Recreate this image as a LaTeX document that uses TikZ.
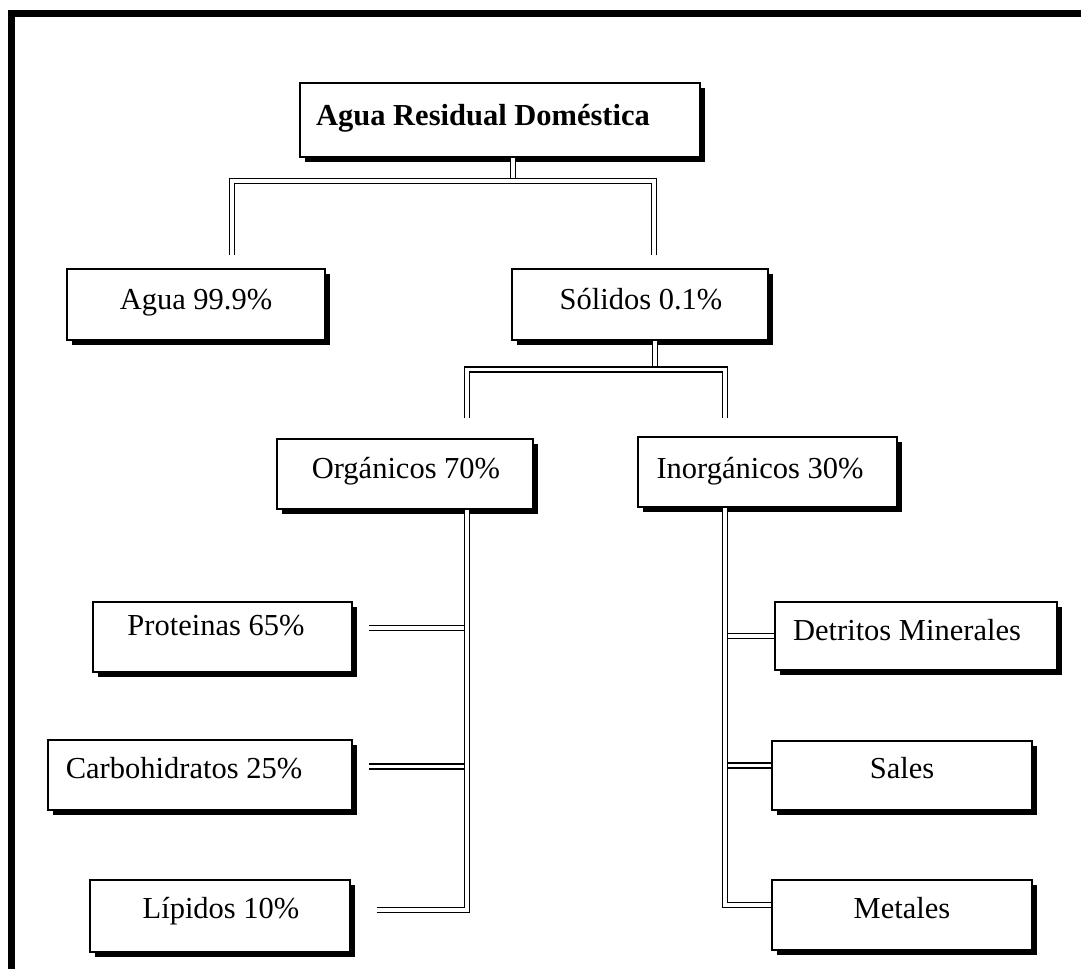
\documentclass[tikz,border=0pt]{standalone}
\usepackage{fontspec}
\setmainfont{Liberation Serif}
\usetikzlibrary{shadows,calc}
\begin{document}
\begin{tikzpicture}[x=1pt,y=-1pt,
  sbox/.style={draw, line width=2pt, fill=white, inner sep=0pt,
    drop shadow={shadow xshift=4.5pt, shadow yshift=-4.5pt, fill=black, opacity=1}},
  lbl/.style={anchor=base, inner sep=0pt, font=\fontsize{30.5}{36}\selectfont},
  dbl/.style={draw=black, double=white, double distance=3.2pt, line width=1.8pt}]
\useasboundingbox (0,0) rectangle (1081,969);
% frame
\fill (8,10) rectangle (1081,17);
\fill (8,10) rectangle (15,969);
% boxes
\node[sbox, minimum width=400pt, minimum height=74pt] (top)   at (500,120)   {};
\node[sbox, minimum width=258pt, minimum height=71pt] (agua)  at (196,304.5) {};
\node[sbox, minimum width=256pt, minimum height=71pt] (sol)   at (640,304.5) {};
\node[sbox, minimum width=256pt, minimum height=70pt] (org)   at (405,474)   {};
\node[sbox, minimum width=259pt, minimum height=70pt] (inorg) at (767.5,472) {};
\node[sbox, minimum width=259pt, minimum height=70pt] (prot)  at (222.5,637) {};
\node[sbox, minimum width=304pt, minimum height=70pt] (carb)  at (200,775)   {};
\node[sbox, minimum width=260pt, minimum height=72pt] (lip)   at (220,916)   {};
\node[sbox, minimum width=282pt, minimum height=68pt] (detr)  at (916,636)   {};
\node[sbox, minimum width=260pt, minimum height=69pt] (sales) at (902,775.5) {};
\node[sbox, minimum width=260pt, minimum height=70pt] (metal) at (902,915)   {};
% labels
\node[lbl] (top-l)   at (483,125) {\bfseries Agua Residual Doméstica};
\node[lbl] (agua-l)  at (196,309) {Agua 99.9\%};
\node[lbl] (sol-l)   at (641,309) {Sólidos 0.1\%};
\node[lbl] (org-l)   at (406,478) {Orgánicos 70\%};
\node[lbl] (inorg-l) at (760,478) {Inorgánicos 30\%};
\node[lbl] (prot-l)  at (216,635) {Proteinas 65\%};
\node[lbl] (carb-l)  at (184,778) {Carbohidratos 25\%};
\node[lbl] (lip-l)   at (221,918) {Lípidos 10\%};
\node[lbl] (detr-l)  at (907,640) {Detritos Minerales};
\node[lbl] (sales-l) at (902,778) {Sales};
\node[lbl] (metal-l) at (902,918) {Metales};
% connector coordinates
\coordinate (j1) at (513,181);
\coordinate (a1) at (232,255);
\coordinate (b1) at (654,255);
\coordinate (j2) at (655,369.5);
\coordinate (c1) at (467,418);
\coordinate (c2) at (725,418);
\coordinate (ov) at (467,910);
\coordinate (pe) at (369,628);
\coordinate (ce) at (369,766.5);
\coordinate (le) at (377,910);
\coordinate (iv) at (725,905);
\coordinate (sw) at ($(sales.west)+(0,-10)$);
\coordinate (mw) at ($(metal.west)+(0,-10)$);
% first level
\draw[dbl] (top.south -| j1) -- (j1);
\draw[dbl] (a1) |- (j1) -| (b1);
% second level
\draw[dbl] (sol.south -| j2) -- (j2);
\draw[dbl] (c1) |- (j2) -| (c2);
% organic branches
\draw[dbl] (pe) -- (pe -| ov);
\draw[dbl] (ce) -- (ce -| ov);
\draw[dbl] (org.south -| ov) -- (ov) -- (le);
% inorganic branches
\draw[dbl] (detr.west) -- (detr.west -| iv);
\draw[dbl] (sw) -- (sw -| iv);
\draw[dbl] (inorg.south -| iv) -- (iv) -- (mw);
\end{tikzpicture}
\end{document}
